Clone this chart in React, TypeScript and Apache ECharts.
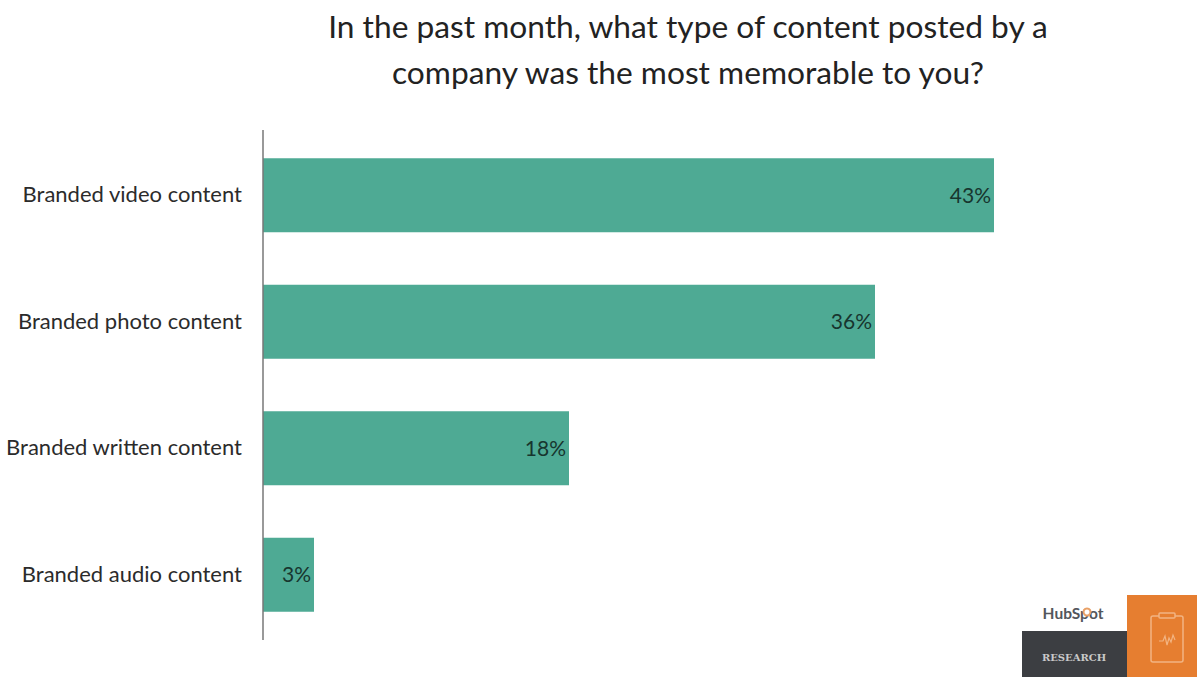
import React, { useEffect, useRef } from "react";
import * as echarts from "echarts";

const categories = [
  "Branded video content",
  "Branded photo content",
  "Branded written content",
  "Branded audio content",
];
const shares = [43, 36, 18, 3];
const titleLines = [
  "In the past month, what type of content posted by a",
  "company was the most memorable to you?",
];

const FONT = "Lato";
const INK = "#2b2b2b";

// Heartbeat trace shown on the clipboard icon
echarts.graphic.registerShape(
  "clipboardPulse",
  echarts.graphic.extendPath("M0 7L4 7L6 2L8 11L10 4L12 8L14 1L16 6", {}) as any,
);

export default function App() {
  const ref = useRef<HTMLDivElement>(null);

  useEffect(() => {
    const chart = echarts.init(ref.current!, undefined, { renderer: "svg" });
    chart.setOption({
      animation: false,
      backgroundColor: "#ffffff",
      grid: { left: 263, top: 132, width: 850, height: 506 },
      xAxis: { type: "value", min: 0, max: 50, show: false },
      yAxis: {
        type: "category",
        inverse: true,
        data: categories,
        axisLine: { show: false },
        axisTick: { show: false },
        axisLabel: {
          margin: 21,
          formatter: "{name|{value}}",
          rich: {
            name: {
              fontFamily: FONT,
              fontSize: 22,
              color: INK,
              padding: [0, 0, 3, 0],
            },
          },
        },
      },
      series: [
        {
          type: "bar",
          data: shares,
          barWidth: 74,
          itemStyle: { color: "#4eaa94" },
          label: {
            show: true,
            position: "insideRight",
            distance: 3,
            offset: [0, -1],
            formatter: "{c}%",
            fontFamily: FONT,
            fontSize: 21,
            color: "#17352e",
          },
        },
      ],
      graphic: [
        {
          type: "line",
          shape: { x1: 263, y1: 130, x2: 263, y2: 640 },
          style: { stroke: "#777777", lineWidth: 1.5 },
          z: 10,
        },
        ...titleLines.map((text, i) => ({
          type: "text",
          x: 688,
          y: 25.5 + i * 46,
          style: {
            text,
            fontFamily: FONT,
            fontSize: 31.7,
            fill: "#222222",
            align: "center",
            verticalAlign: "middle",
          },
        })),
        { type: "rect", shape: { x: 1127, y: 595, width: 70, height: 82 }, style: { fill: "#e67e30" } },
        { type: "rect", shape: { x: 1022, y: 631, width: 105, height: 46 }, style: { fill: "#3c3e42" } },
        {
          type: "text",
          x: 1074,
          y: 657,
          style: {
            text: "RESEARCH",
            fontFamily: "DejaVu Serif",
            fontWeight: "bold",
            fontSize: 10,
            fill: "#c9c9c9",
            align: "center",
            verticalAlign: "middle",
          },
        },
        {
          type: "text",
          x: 1073,
          y: 613,
          style: {
            text: "HubSpot",
            fontFamily: FONT,
            fontWeight: "bold",
            fontSize: 15.5,
            fill: "#53565c",
            align: "center",
            verticalAlign: "middle",
          },
        },
        {
          type: "circle",
          shape: { cx: 1087, cy: 612, r: 3.5 },
          style: { fill: "#ffffff", stroke: "#e9a066", lineWidth: 2 },
        },
        {
          type: "rect",
          shape: { x: 1151, y: 616, width: 32, height: 46, r: 2 },
          style: { fill: "none", stroke: "#f2b482", lineWidth: 1.5 },
        },
        {
          type: "rect",
          shape: { x: 1159, y: 613, width: 16, height: 5, r: 1 },
          style: { fill: "#e67e30", stroke: "#f2b482", lineWidth: 1.5 },
        },
        {
          type: "clipboardPulse",
          x: 1159,
          y: 634,
          style: { fill: "none", stroke: "#f2b482", lineWidth: 1.2 },
        },
      ],
    });
    return () => chart.dispose();
  }, []);

  return <div ref={ref} style={{ position: "fixed", left: 0, top: 0, width: 1197, height: 677 }} />;
}
